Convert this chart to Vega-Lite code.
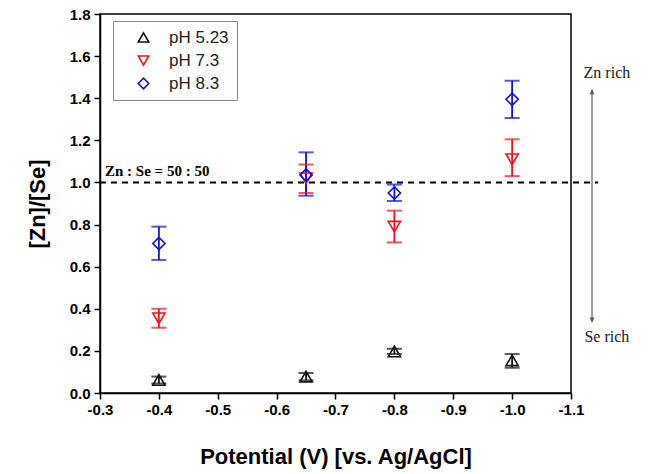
{
  "$schema": "https://vega.github.io/schema/vega-lite/v6.json",
  "width": 471,
  "height": 379,
  "autosize": {"type": "none"},
  "padding": {"left": 100, "top": 14, "right": 82, "bottom": 81},
  "background": "white",
  "config": {
    "view": {"stroke": "black", "strokeWidth": 1.5},
    "font": "Liberation Sans",
    "legend": {
      "orient": "none", "legendX": 13, "legendY": 7, "title": null,
      "padding": 8, "strokeColor": "#888888", "fillColor": "white",
      "labelFont": "Liberation Sans", "labelFontSize": 17, "labelColor": "#222222",
      "symbolSize": 110, "symbolStrokeWidth": 1.6, "symbolOffset": 14, "labelOffset": 17,
      "rowPadding": 5
    }
  },
  "datasets": {
    "pts": [
      {"s": "pH 5.23", "p": -0.4, "r": 0.062, "lo": 0.045, "hi": 0.078},
      {"s": "pH 5.23", "p": -0.65, "r": 0.078, "lo": 0.06, "hi": 0.095},
      {"s": "pH 5.23", "p": -0.8, "r": 0.197, "lo": 0.185, "hi": 0.21},
      {"s": "pH 5.23", "p": -1.0, "r": 0.155, "lo": 0.12, "hi": 0.185},
      {"s": "pH 7.3", "p": -0.4, "r": 0.355, "lo": 0.31, "hi": 0.40},
      {"s": "pH 7.3", "p": -0.65, "r": 1.02, "lo": 0.95, "hi": 1.085},
      {"s": "pH 7.3", "p": -0.8, "r": 0.79, "lo": 0.715, "hi": 0.866},
      {"s": "pH 7.3", "p": -1.0, "r": 1.11, "lo": 1.03, "hi": 1.205},
      {"s": "pH 8.3", "p": -0.4, "r": 0.71, "lo": 0.632, "hi": 0.79},
      {"s": "pH 8.3", "p": -0.65, "r": 1.035, "lo": 0.937, "hi": 1.143},
      {"s": "pH 8.3", "p": -0.8, "r": 0.95, "lo": 0.912, "hi": 0.99},
      {"s": "pH 8.3", "p": -1.0, "r": 1.395, "lo": 1.306, "hi": 1.483}
    ],
    "dash": [{"p1": -0.3, "p2": -1.146, "r": 1.0}],
    "arrow": [{"p": -1.1357, "r1": 1.44, "r2": 0.337}],
    "headUp": [{"p": -1.1357, "r": 1.43}],
    "headDown": [{"p": -1.1357, "r": 0.347}],
    "rich": [
      {"t": "Zn rich", "p": -1.161, "r": 1.52},
      {"t": "Se rich", "p": -1.161, "r": 0.266}
    ],
    "ratio": [{"t": "Zn : Se = 50 : 50", "p": -0.3085, "r": 1.03}]
  },
  "layer": [
    {
      "data": {"name": "dash"},
      "mark": {"type": "rule", "color": "black", "strokeWidth": 2, "strokeDash": [6, 5]},
      "encoding": {
        "x": {"field": "p1", "type": "quantitative", "scale": {"domain": [-0.3, -1.1], "nice": false, "zero": false},
          "axis": {
            "values": [-0.3, -0.35, -0.4, -0.45, -0.5, -0.55, -0.6, -0.65, -0.7, -0.75, -0.8, -0.85, -0.9, -0.95, -1.0, -1.05, -1.1],
            "labelExpr": "round(datum.value*20)%2==0 ? replace(format(datum.value,'.1f'),'\u2212','-') : ''",
            "tickSize": {"condition": {"test": "round(datum.value*20)%2==0", "value": 6}, "value": 3},
            "tickColor": "black", "tickWidth": 1.5, "domainColor": "black", "domainWidth": 1.5,
            "labelFont": "Liberation Sans", "labelFontSize": 15, "labelFontWeight": "bold", "labelColor": "black",
            "labelPadding": 3, "labelFlush": false, "grid": false,
            "title": "Potential (V) [vs. Ag/AgCl]", "titleFont": "Liberation Sans", "titleFontSize": 22,
            "titleFontWeight": "bold", "titleColor": "black", "titlePadding": 29
          }},
        "x2": {"field": "p2"},
        "y": {"field": "r", "type": "quantitative", "scale": {"domain": [0, 1.8], "nice": false},
          "axis": {
            "values": [0, 0.1, 0.2, 0.3, 0.4, 0.5, 0.6, 0.7, 0.8, 0.9, 1.0, 1.1, 1.2, 1.3, 1.4, 1.5, 1.6, 1.7, 1.8],
            "labelExpr": "round(datum.value*10)%2==0 ? format(datum.value,'.1f') : ''",
            "tickSize": {"condition": {"test": "round(datum.value*10)%2==0", "value": 6}, "value": 3},
            "tickColor": "black", "tickWidth": 1.5, "domainColor": "black", "domainWidth": 1.5,
            "labelFont": "Liberation Sans", "labelFontSize": 15, "labelFontWeight": "bold", "labelColor": "black",
            "labelPadding": 4, "labelFlush": false, "grid": false,
            "title": "[Zn]/[Se]", "titleFont": "Liberation Sans", "titleFontSize": 22,
            "titleFontWeight": "bold", "titleColor": "black", "titlePadding": 20
          }}
      }
    },
    {
      "data": {"name": "pts"},
      "mark": {"type": "rule", "strokeWidth": 1.8},
      "encoding": {
        "x": {"field": "p", "type": "quantitative"},
        "y": {"field": "lo", "type": "quantitative"},
        "y2": {"field": "hi"},
        "color": {"field": "s", "type": "nominal", "scale": {"domain": ["pH 5.23", "pH 7.3", "pH 8.3"], "range": ["#111111", "#e8161c", "#1010d8"]},
          "legend": {
            "encode": {"symbols": {"update": {
              "fillOpacity": {"value": 0},
              "stroke": {"scale": "color", "field": "value"},
              "strokeWidth": {"value": 1.6},
              "opacity": {"value": 1}
            }}}
          }}
      }
    },
    {
      "data": {"name": "pts"},
      "mark": {"type": "tick", "orient": "horizontal", "size": 15, "thickness": 2},
      "encoding": {
        "x": {"field": "p", "type": "quantitative"},
        "y": {"field": "lo", "type": "quantitative"},
        "color": {"field": "s", "type": "nominal"}
      }
    },
    {
      "data": {"name": "pts"},
      "mark": {"type": "tick", "orient": "horizontal", "size": 15, "thickness": 2},
      "encoding": {
        "x": {"field": "p", "type": "quantitative"},
        "y": {"field": "hi", "type": "quantitative"},
        "color": {"field": "s", "type": "nominal"}
      }
    },
    {
      "data": {"name": "pts"},
      "mark": {"type": "point", "filled": false, "fill": "white", "fillOpacity": 0, "strokeWidth": 1.6, "size": 150, "opacity": 1},
      "encoding": {
        "x": {"field": "p", "type": "quantitative"},
        "y": {"field": "r", "type": "quantitative"},
        "color": {"field": "s", "type": "nominal"},
        "shape": {"field": "s", "type": "nominal", "scale": {"domain": ["pH 5.23", "pH 7.3", "pH 8.3"], "range": ["triangle-up", "triangle-down", "diamond"]},
          "legend": {
            "encode": {"symbols": {"update": {
              "fillOpacity": {"value": 0},
              "stroke": {"scale": "color", "field": "value"},
              "strokeWidth": {"value": 1.6},
              "opacity": {"value": 1}
            }}}
          }}
      }
    },
    {
      "data": {"name": "arrow"},
      "mark": {"type": "rule", "color": "#444444", "strokeWidth": 1},
      "encoding": {
        "x": {"field": "p", "type": "quantitative"},
        "y": {"field": "r1", "type": "quantitative"},
        "y2": {"field": "r2"}
      }
    },
    {
      "data": {"name": "headUp"},
      "mark": {"type": "point", "filled": true, "color": "#333333", "size": 30, "shape": "triangle-up"},
      "encoding": {
        "x": {"field": "p", "type": "quantitative"},
        "y": {"field": "r", "type": "quantitative"}
      }
    },
    {
      "data": {"name": "headDown"},
      "mark": {"type": "point", "filled": true, "color": "#333333", "size": 30, "shape": "triangle-down"},
      "encoding": {
        "x": {"field": "p", "type": "quantitative"},
        "y": {"field": "r", "type": "quantitative"}
      }
    },
    {
      "data": {"name": "rich"},
      "mark": {"type": "text", "font": "Liberation Serif", "fontSize": 16, "color": "#222222", "align": "center", "baseline": "middle"},
      "encoding": {
        "x": {"field": "p", "type": "quantitative"},
        "y": {"field": "r", "type": "quantitative"},
        "text": {"field": "t"}
      }
    },
    {
      "data": {"name": "ratio"},
      "mark": {"type": "text", "font": "Liberation Serif", "fontSize": 15, "fontWeight": "bold", "color": "black", "align": "left", "baseline": "alphabetic"},
      "encoding": {
        "x": {"field": "p", "type": "quantitative"},
        "y": {"field": "r", "type": "quantitative"},
        "text": {"field": "t"}
      }
    }
  ]
}
